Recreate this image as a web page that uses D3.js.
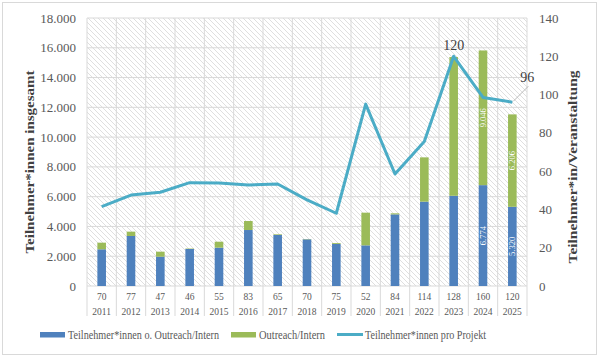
<!DOCTYPE html>
<html><head><meta charset="utf-8">
<script src="https://cdn.jsdelivr.net/npm/d3@7"></script>
<style>html,body{margin:0;padding:0;background:#fff;}svg{display:block;font-family:"Liberation Serif","DejaVu Serif",serif;}</style>
</head><body>
<svg id="c" width="600" height="358"></svg>
<script>
const years = ["2011","2012","2013","2014","2015","2016","2017","2018","2019","2020","2021","2022","2023","2024","2025"];
const projects = ["70","77","47","46","55","83","65","70","75","52","84","114","128","160","120"];
const baseValues = [2465,3360,1970,2485,2575,3760,3425,3135,2820,2730,4810,5665,6060,6774,5320];
const outreachValues = [445,290,335,30,400,605,45,20,60,2195,70,2975,9320,9046,6206];
const perProject = [41.5,47.5,49,54,53.8,52.8,53.3,45,38,95,58.5,75.5,120,98.5,96];
const leftTicks = [0,2000,4000,6000,8000,10000,12000,14000,16000,18000];
const rightTicks = [0,20,40,60,80,100,120,140];
const barLabelIdx = [13,14];

const svg = d3.select("#c");
const L=87,R=527,T=18,B=286;
const fmt = d3.formatLocale({decimal:",",thousands:".",grouping:[3]}).format(",");

svg.append("rect").attr("x",2.5).attr("y",2.5).attr("width",594).attr("height",352)
  .attr("fill","#fff").attr("stroke","#d9d9d9");

const defs = svg.append("defs");
const pat = defs.append("pattern").attr("id","hatch").attr("patternUnits","userSpaceOnUse")
  .attr("width",5).attr("height",5);
pat.append("path").attr("d","M-1,-1 L6,6 M-1,4 L1,6 M4,-1 L6,1")
  .attr("stroke","#d9d9d9").attr("stroke-width",0.85);

const x = d3.scaleBand().domain(years).range([L,R]).paddingInner(0).paddingOuter(0);
const yL = d3.scaleLinear().domain([0,18000]).range([B,T]);
const yR = d3.scaleLinear().domain([0,140]).range([B,T]);

svg.append("rect").attr("x",L).attr("y",T).attr("width",R-L).attr("height",B-T).attr("fill","url(#hatch)");

const g = svg.append("g");
g.selectAll(".h").data(leftTicks).join("line")
  .attr("x1",L).attr("x2",R).attr("y1",d=>yL(d)).attr("y2",d=>yL(d))
  .attr("stroke","#d9d9d9").attr("stroke-width",1);
const bounds = years.map(d=>x(d)).concat([R]);
g.selectAll(".v").data(bounds).join("line")
  .attr("x1",d=>d).attr("x2",d=>d).attr("y1",T).attr("y2",316)
  .attr("stroke","#d9d9d9").attr("stroke-width",1);

const bw = 8.6;
const bars = svg.append("g");
years.forEach((yr,i)=>{
  const cx = x(yr)+x.bandwidth()/2;
  bars.append("rect").attr("x",cx-bw/2).attr("width",bw)
    .attr("y",yL(baseValues[i])).attr("height",yL(0)-yL(baseValues[i])).attr("fill","#4f81bd");
  bars.append("rect").attr("x",cx-bw/2).attr("width",bw)
    .attr("y",yL(baseValues[i]+outreachValues[i])).attr("height",yL(0)-yL(outreachValues[i])).attr("fill","#9bbb59");
});
barLabelIdx.forEach(i=>{
  const cx = x(years[i])+x.bandwidth()/2;
  const yb = (yL(0)+yL(baseValues[i]))/2;
  const yg = (yL(baseValues[i])+yL(baseValues[i]+outreachValues[i]))/2;
  [[yb,baseValues[i]],[yg,outreachValues[i]]].forEach(([yy,v])=>{
    svg.append("text").attr("transform",`translate(${cx+3},${yy}) rotate(-90)`)
      .attr("text-anchor","middle").attr("font-size",8.5).attr("fill","#fff").text(fmt(v));
  });
});

const line = d3.line().x((d,i)=>x(years[i])+x.bandwidth()/2).y(d=>yR(d));
svg.append("path").datum(perProject).attr("d",line).attr("fill","none")
  .attr("stroke","#4bacc6").attr("stroke-width",3).attr("stroke-linejoin","round");

{
  const i=12, cx=x(years[i])+x.bandwidth()/2;
  svg.append("text").attr("x",cx).attr("y",yR(perProject[i])-6).attr("text-anchor","middle")
    .attr("font-size",14).attr("fill","#404040").text(perProject[i]);
}
{
  const i=14, cx=x(years[i])+x.bandwidth()/2, cy=yR(perProject[i]);
  svg.append("line").attr("x1",cx+1).attr("y1",cy-1).attr("x2",cx+16).attr("y2",cy-16)
    .attr("stroke","#a6a6a6").attr("stroke-width",0.8);
  svg.append("text").attr("x",cx+15).attr("y",cy-20).attr("text-anchor","middle")
    .attr("font-size",14).attr("fill","#404040").text(perProject[i]);
}

svg.append("g").selectAll("text").data(leftTicks).join("text")
  .attr("x",76).attr("y",d=>yL(d)+4.5).attr("text-anchor","end")
  .attr("font-size",13).attr("fill","#595959").text(d=>d===0?"0":fmt(d));
svg.append("g").selectAll("text").data(rightTicks).join("text")
  .attr("x",539).attr("y",d=>yR(d)+4.5).attr("text-anchor","start")
  .attr("font-size",13).attr("fill","#595959").text(d=>d);

svg.append("g").selectAll("text").data(projects).join("text")
  .attr("x",(d,i)=>x(years[i])+x.bandwidth()/2).attr("y",300).attr("text-anchor","middle")
  .attr("font-size",9.5).attr("fill","#595959").text(d=>d);
svg.append("g").selectAll("text").data(years).join("text")
  .attr("x",d=>x(d)+x.bandwidth()/2).attr("y",314.5).attr("text-anchor","middle")
  .attr("font-size",9.5).attr("fill","#595959").text(d=>d);

svg.append("text").attr("transform","translate(34,162) rotate(-90)").attr("text-anchor","middle")
  .attr("font-size",13).attr("font-weight","bold").attr("fill","#404040")
  .attr("textLength",183).attr("lengthAdjust","spacingAndGlyphs").text("Teilnehmer*innen insgesamt");
svg.append("text").attr("transform","translate(577,167) rotate(-90)").attr("text-anchor","middle")
  .attr("font-size",13).attr("font-weight","bold").attr("fill","#404040")
  .attr("textLength",193).attr("lengthAdjust","spacingAndGlyphs").text("Teilnehmer*in/Veranstaltung");

const leg = svg.append("g");
const items = [
  {x:40,type:"rect",c:"#4f81bd",t:"Teilnehmer*innen o. Outreach/Intern",w:151},
  {x:231,type:"rect",c:"#9bbb59",t:"Outreach/Intern",w:66},
  {x:337,type:"line",c:"#4bacc6",t:"Teilnehmer*innen pro Projekt",w:121}
];
items.forEach(it=>{
  if(it.type==="rect") leg.append("rect").attr("x",it.x).attr("y",332).attr("width",25).attr("height",5.5).attr("fill",it.c);
  else leg.append("line").attr("x1",it.x).attr("x2",it.x+26).attr("y1",334.5).attr("y2",334.5).attr("stroke",it.c).attr("stroke-width",3);
  leg.append("text").attr("x",it.x+28).attr("y",339).attr("font-size",12.5).attr("fill","#595959")
    .attr("textLength",it.w).attr("lengthAdjust","spacingAndGlyphs").text(it.t);
});
</script>
</body></html>
